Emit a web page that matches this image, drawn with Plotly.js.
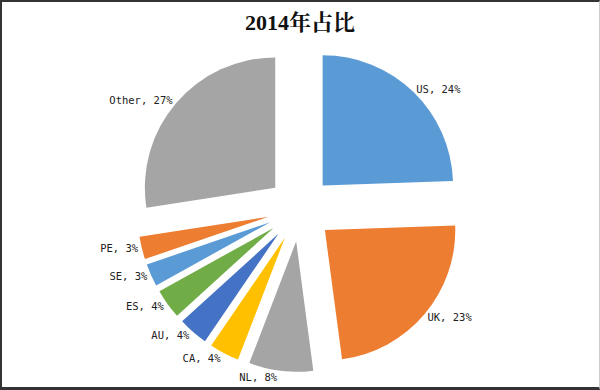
<!DOCTYPE html>
<html>
<head>
<meta charset="utf-8">
<script src="https://cdn.plot.ly/plotly-3.0.1.min.js"></script>
<style>
  html, body { margin: 0; padding: 0; background: #fff; }
  #wrap { position: relative; width: 600px; height: 390px; }
  #chart { width: 600px; height: 390px; }
  #frame { position: absolute; left: 0; top: 0; width: 600px; height: 390px; box-sizing: border-box;
           border-top: 2px solid #333; border-left: 2px solid #333; border-bottom: 3px solid #333;
           border-right: 1px solid #ccc; pointer-events: none; }
</style>
</head>
<body>
<div id="wrap">
  <div id="chart"></div>
  <div id="frame"></div>
</div>
<script>
const categories = ['US', 'UK', 'NL', 'CA', 'AU', 'ES', 'SE', 'PE', 'Other'];
// slice shares estimated from the drawn angles (each rounds to its printed percentage)
const shares = [24.45, 23.45, 7.95, 3.7, 3.7, 3.7, 2.8, 2.8, 27.45];
const sliceColors = ['#5B9BD5', '#ED7D31', '#A5A5A5', '#FFC000', '#4472C4', '#70AD47', '#5B9BD5', '#ED7D31', '#A5A5A5'];
const chartTitle = '2014年占比';

const trace = {
  type: 'pie',
  labels: categories,
  values: shares,
  sort: false,
  direction: 'clockwise',
  rotation: 0,
  pull: categories.map(() => 0.25),
  marker: { colors: sliceColors, line: { width: 0 } },
  texttemplate: '%{label}, %{percent:.0%}',
  textposition: 'outside',
  textfont: { family: 'DejaVu Sans Mono, monospace', size: 10.5, color: '#222' },
  hoverinfo: 'label+percent',
  showlegend: false
};

const layout = {
  width: 600,
  height: 390,
  margin: { l: 0, r: 0, t: 46, b: 18 },
  paper_bgcolor: '#fff',
  title: {
    text: '<b>' + chartTitle + '</b>',
    font: { family: 'Liberation Serif, Noto Serif CJK SC, Noto Sans CJK SC, serif', size: 22, color: '#111' },
    x: 0.5, xanchor: 'center',
    y: 1 - 22 / 390, yanchor: 'middle', yref: 'container'
  },
  showlegend: false
};

Plotly.newPlot('chart', [trace], layout, { displayModeBar: false, staticPlot: true });
</script>
</body>
</html>
